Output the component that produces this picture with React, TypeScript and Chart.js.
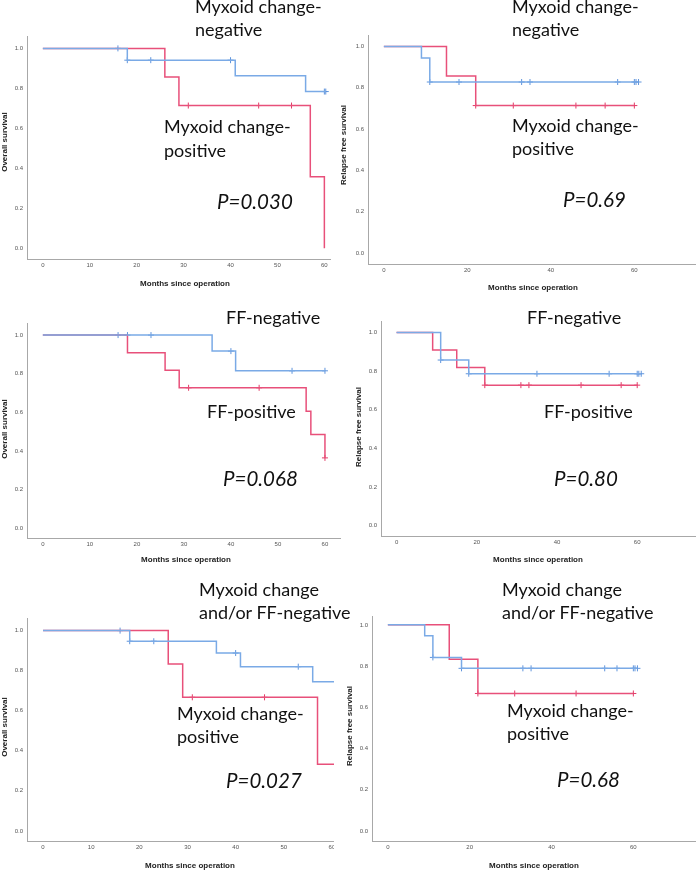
import React, { useEffect, useRef } from "react";
import { Chart, registerables } from "chart.js";

Chart.register(...registerables);

// ---------- DATA (Kaplan-Meier estimates) ----------
// Panel 1: overall survival, myxoid change
const osMyxNegTimes = [0, 18, 41, 56, 60.3];
const osMyxNegSurv = [1, 0.941, 0.863, 0.784, 0.784];
const osMyxNegCensor = [16, 18, 23, 40, 60, 60.3];
const osMyxPosTimes = [0, 26, 29, 57, 60];
const osMyxPosSurv = [1, 0.857, 0.714, 0.357, 0];
const osMyxPosCensor = [31, 46, 53];

// Panel 2: relapse free survival, myxoid change
const rfsMyxNegTimes = [0, 9, 11, 61];
const rfsMyxNegSurv = [1, 0.944, 0.828, 0.828];
const rfsMyxNegCensor = [11, 18, 33, 35, 56, 60, 60.4, 61];
const rfsMyxPosTimes = [0, 15, 22, 60];
const rfsMyxPosSurv = [1, 0.857, 0.714, 0.714];
const rfsMyxPosCensor = [22, 31, 46, 53, 60];

// Panel 3: overall survival, FF
const osFfNegTimes = [0, 36, 41, 60];
const osFfNegSurv = [1, 0.917, 0.815, 0.815];
const osFfNegCensor = [16, 18, 23, 40, 53, 60];
const osFfPosTimes = [0, 18, 26, 29, 56, 57, 60];
const osFfPosSurv = [1, 0.909, 0.818, 0.727, 0.606, 0.485, 0.364];
const osFfPosCensor = [31, 46, 60];

// Panel 4: relapse free survival, FF
const rfsFfNegTimes = [0, 11, 18, 61];
const rfsFfNegSurv = [1, 0.857, 0.786, 0.786];
const rfsFfNegCensor = [11, 18, 35, 53, 60, 60.4, 61];
const rfsFfPosTimes = [0, 9, 15, 22, 60];
const rfsFfPosSurv = [1, 0.909, 0.818, 0.727, 0.727];
const rfsFfPosCensor = [22, 31, 33, 46, 56, 60];

// Panel 5: overall survival, myxoid change and/or FF
const osComNegTimes = [0, 18, 36, 41, 56, 62];
const osComNegSurv = [1, 0.947, 0.888, 0.82, 0.745, 0.745];
const osComNegCensor = [16, 18, 23, 40, 53];
const osComPosTimes = [0, 26, 29, 57, 62];
const osComPosSurv = [1, 0.833, 0.667, 0.333, 0.333];
const osComPosCensor = [31, 46];

// Panel 6: relapse free survival, myxoid change and/or FF
const rfsComNegTimes = [0, 9, 11, 18, 61];
const rfsComNegSurv = [1, 0.947, 0.842, 0.789, 0.789];
const rfsComNegCensor = [11, 18, 33, 35, 53, 56, 60, 60.4, 61];
const rfsComPosTimes = [0, 15, 22, 60];
const rfsComPosSurv = [1, 0.833, 0.667, 0.667];
const rfsComPosCensor = [22, 31, 46, 60];

// Tick labels
const osMonthTicks = [0, 10, 20, 30, 40, 50, 60];
const rfsMonthTicks = [0, 20, 40, 60];
const survivalTicks = [0, 0.2, 0.4, 0.6, 0.8, 1.0];

// Texts
const xTitle = "Months since operation";
const osTitle = "Overall survival";
const rfsTitle = "Relapse free survival";

// ---------- LAYOUT ----------
const BLUE = "#7aaae6";
const BLUE_MARK = "#5f94dc";
const RED = "#e8507a";
const RED_MARK = "#e23a66";
const AXIS = "#a8a8a8";

type Panel = {
  negT: number[]; negS: number[]; negC: number[];
  posT: number[]; posS: number[]; posC: number[];
  xTicks: number[];
  plotL: number; plotR: number; plotT: number; plotB: number;
  xmin: number; xmax: number; ymin: number; ymax: number;
  clipR?: number;
};

const panels: Panel[] = [
  { negT: osMyxNegTimes, negS: osMyxNegSurv, negC: osMyxNegCensor, posT: osMyxPosTimes, posS: osMyxPosSurv, posC: osMyxPosCensor,
    xTicks: osMonthTicks, plotL: 26.7, plotR: 333, plotT: 33, plotB: 259, xmin: -3.38, xmax: 61.2, ymin: -0.054, ymax: 1.059 },
  { negT: rfsMyxNegTimes, negS: rfsMyxNegSurv, negC: rfsMyxNegCensor, posT: rfsMyxPosTimes, posS: rfsMyxPosSurv, posC: rfsMyxPosCensor,
    xTicks: rfsMonthTicks, plotL: 368.3, plotR: 710, plotT: 31.7, plotB: 263.3, xmin: -3.8, xmax: 77.4, ymin: -0.0525, ymax: 1.0525 },
  { negT: osFfNegTimes, negS: osFfNegSurv, negC: osFfNegCensor, posT: osFfPosTimes, posS: osFfPosSurv, posC: osFfPosCensor,
    xTicks: osMonthTicks, plotL: 26.7, plotR: 343, plotT: 320, plotB: 538.3, xmin: -3.37, xmax: 63.2, ymin: -0.051, ymax: 1.0595 },
  { negT: rfsFfNegTimes, negS: rfsFfNegSurv, negC: rfsFfNegCensor, posT: rfsFfPosTimes, posS: rfsFfPosSurv, posC: rfsFfPosCensor,
    xTicks: rfsMonthTicks, plotL: 381, plotR: 710, plotT: 318.3, plotB: 536.7, xmin: -3.88, xmax: 77.4, ymin: -0.054, ymax: 1.056 },
  { negT: osComNegTimes, negS: osComNegSurv, negC: osComNegCensor, posT: osComPosTimes, posS: osComPosSurv, posC: osComPosCensor,
    xTicks: osMonthTicks, plotL: 27.3, plotR: 347.3, plotT: 615, plotB: 841, xmin: -3.33, xmax: 62.5, ymin: -0.0506, ymax: 1.06, clipR: 334 },
  { negT: rfsComNegTimes, negS: rfsComNegSurv, negC: rfsComNegCensor, posT: rfsComPosTimes, posS: rfsComPosSurv, posC: rfsComPosCensor,
    xTicks: rfsMonthTicks, plotL: 372.3, plotR: 710, plotT: 613.3, plotB: 841, xmin: -3.88, xmax: 78, ymin: -0.0488, ymax: 1.04 },
];

const LABEL_FONT = "Lato, 'Open Sans', sans-serif";
const annotations = [
  { t: "Myxoid change-", x: 195, y: 13 }, { t: "negative", x: 195, y: 36 },
  { t: "Myxoid change-", x: 164, y: 133 }, { t: "positive", x: 164, y: 157 },
  { t: "P=0.030", x: 217, y: 209, it: true },
  { t: "Myxoid change-", x: 512, y: 13 }, { t: "negative", x: 512, y: 36 },
  { t: "Myxoid change-", x: 512, y: 132 }, { t: "positive", x: 512, y: 155 },
  { t: "P=0.69", x: 563, y: 207, it: true },
  { t: "FF-negative", x: 226, y: 324 }, { t: "FF-positive", x: 207, y: 418 },
  { t: "P=0.068", x: 223, y: 486, it: true },
  { t: "FF-negative", x: 527, y: 324 }, { t: "FF-positive", x: 544, y: 418 },
  { t: "P=0.80", x: 554, y: 486, it: true },
  { t: "Myxoid change", x: 199, y: 596 }, { t: "and/or FF-negative", x: 199, y: 619 },
  { t: "Myxoid change-", x: 177, y: 720 }, { t: "positive", x: 177, y: 743 },
  { t: "P=0.027", x: 226, y: 788, it: true },
  { t: "Myxoid change", x: 502, y: 596 }, { t: "and/or FF-negative", x: 502, y: 619 },
  { t: "Myxoid change-", x: 507, y: 717 }, { t: "positive", x: 507, y: 740 },
  { t: "P=0.68", x: 557, y: 787, it: true },
];

const axisTitles = [
  { t: xTitle, x: 185, y: 286, r: false }, { t: osTitle, x: 7, y: 142, r: true },
  { t: xTitle, x: 533, y: 290, r: false }, { t: rfsTitle, x: 346, y: 145, r: true },
  { t: xTitle, x: 186, y: 562, r: false }, { t: osTitle, x: 7, y: 429, r: true },
  { t: xTitle, x: 538, y: 562, r: false }, { t: rfsTitle, x: 361, y: 427, r: true },
  { t: xTitle, x: 190, y: 868, r: false }, { t: osTitle, x: 6.5, y: 727, r: true },
  { t: xTitle, x: 534, y: 868, r: false }, { t: rfsTitle, x: 352, y: 726, r: true },
];

function survAt(times: number[], surv: number[], t: number) {
  let s = surv[0];
  for (let i = 0; i < times.length; i++) if (times[i] <= t) s = surv[i];
  return s;
}

const WY = 30, HX = 14, PT = 4, PR = 2;

function KMPanel({ p }: { p: Panel }) {
  const ref = useRef<HTMLCanvasElement>(null);
  const width = Math.round(WY + (p.plotR - p.plotL) + PR);
  const height = Math.round(PT + (p.plotB - p.plotT) + HX);
  const left = p.plotL - WY;
  const top = p.plotT - PT;
  const clipW = p.clipR !== undefined ? p.clipR - left : width;

  useEffect(() => {
    if (!ref.current) return;
    const curve = (T: number[], S: number[]) => T.map((t, i) => ({ x: t, y: S[i] }));
    const marks = (T: number[], S: number[], C: number[]) => C.map((c) => ({ x: c, y: survAt(T, S, c) }));
    const tickFont = { family: "'Liberation Sans', Arial, sans-serif", size: 6 };
    const chart = new Chart(ref.current, {
      type: "line",
      data: {
        datasets: [
          { data: curve(p.negT, p.negS), borderColor: BLUE, borderWidth: 1.5, stepped: "before", pointRadius: 0, fill: false },
          { data: curve(p.posT, p.posS), borderColor: RED, borderWidth: 1.5, stepped: "before", pointRadius: 0, fill: false },
          { data: marks(p.negT, p.negS, p.negC), showLine: false, pointStyle: "cross", pointRadius: 3, pointBorderWidth: 1, borderColor: BLUE_MARK, pointBorderColor: BLUE_MARK },
          { data: marks(p.posT, p.posS, p.posC), showLine: false, pointStyle: "cross", pointRadius: 3, pointBorderWidth: 1, borderColor: RED_MARK, pointBorderColor: RED_MARK },
        ],
      } as any,
      options: {
        responsive: false,
        animation: false,
        devicePixelRatio: 1,
        layout: { padding: { top: PT, right: PR, left: 0, bottom: 0 } },
        plugins: { legend: { display: false }, tooltip: { enabled: false } },
        events: [],
        scales: {
          x: {
            type: "linear", min: p.xmin, max: p.xmax,
            grid: { display: false, drawTicks: false },
            border: { display: true, color: AXIS, width: 1 },
            ticks: { font: tickFont, color: "#555", padding: 3, maxRotation: 0, autoSkip: false, callback: (v: any) => String(v) },
            afterBuildTicks: (s: any) => { s.ticks = p.xTicks.map((v) => ({ value: v })); },
            afterFit: (s: any) => { s.height = HX; },
          },
          y: {
            type: "linear", min: p.ymin, max: p.ymax,
            grid: { display: false, drawTicks: false },
            border: { display: true, color: AXIS, width: 1 },
            ticks: { font: tickFont, color: "#555", padding: 4, autoSkip: false, callback: (v: any) => Number(v).toFixed(1) },
            afterBuildTicks: (s: any) => { s.ticks = survivalTicks.map((v) => ({ value: v })); },
            afterFit: (s: any) => { s.width = WY; },
          },
        },
      } as any,
    });
    return () => chart.destroy();
  }, []);

  return (
    <div style={{ position: "absolute", left, top, width: clipW, height, overflow: "hidden" }}>
      <canvas ref={ref} width={width} height={height} style={{ width, height, display: "block" }} />
    </div>
  );
}

export default function App() {
  return (
    <div style={{ position: "fixed", left: 0, top: 0, width: 696, height: 870, overflow: "hidden", background: "#fff" }}>
      {panels.map((p, i) => <KMPanel key={i} p={p} />)}
      <svg width={696} height={870} style={{ position: "absolute", left: 0, top: 0, pointerEvents: "none" }}>
        {axisTitles.map((a, i) =>
          a.r ? (
            <text key={"a" + i} transform={`translate(${a.x},${a.y}) rotate(-90)`} textAnchor="middle"
              fontFamily="'Liberation Sans', Arial, sans-serif" fontWeight="bold" fontSize={8} fill="#222">{a.t}</text>
          ) : (
            <text key={"a" + i} x={a.x} y={a.y} textAnchor="middle"
              fontFamily="'Liberation Sans', Arial, sans-serif" fontWeight="bold" fontSize={8} fill="#222">{a.t}</text>
          )
        )}
        {annotations.map((a, i) => (
          <text key={"t" + i} x={a.x} y={a.y} fontFamily={LABEL_FONT} fontSize={a.it ? 20.5 : 18}
            fontStyle={a.it ? "italic" : "normal"} fill="#111">{a.t}</text>
        ))}
      </svg>
    </div>
  );
}
